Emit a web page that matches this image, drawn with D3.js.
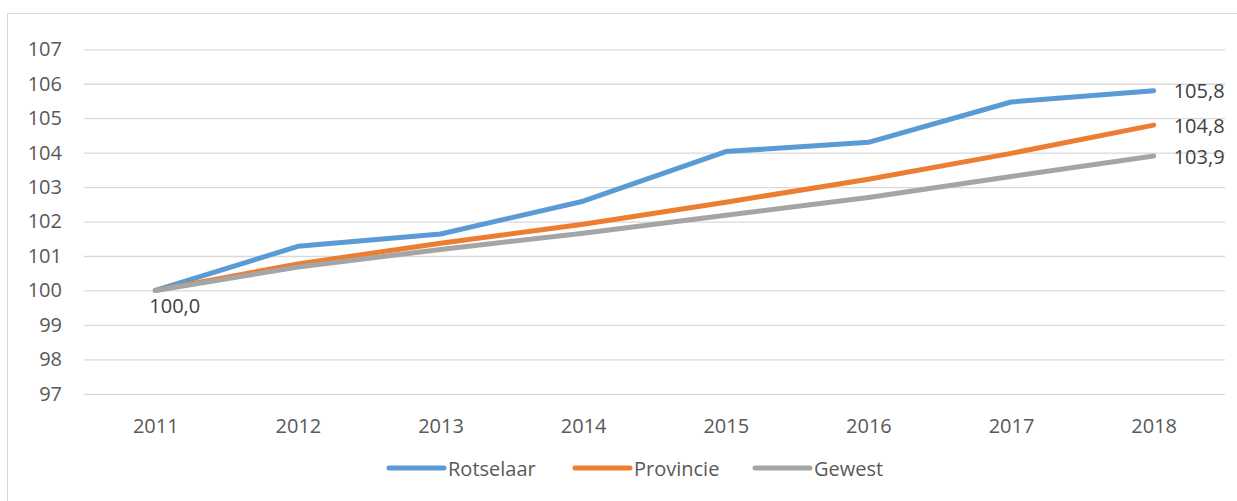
<!DOCTYPE html>
<html>
<head>
<meta charset="utf-8">
<script src="https://cdn.jsdelivr.net/npm/d3@7"></script>
<style>
  html, body { margin: 0; padding: 0; background: #fff; }
  svg { display: block; font-family: "Open Sans", sans-serif; }
</style>
</head>
<body>
<div id="chart"></div>
<script>
const years = ["2011", "2012", "2013", "2014", "2015", "2016", "2017", "2018"];
const rotselaar = [100.0, 101.28, 101.64, 102.59, 104.03, 104.30, 105.47, 105.8];
const provincie = [100.0, 100.77, 101.37, 101.92, 102.56, 103.23, 103.98, 104.8];
const gewest = [100.0, 100.68, 101.19, 101.66, 102.18, 102.70, 103.31, 103.9];
const yTicks = [97, 98, 99, 100, 101, 102, 103, 104, 105, 106, 107];
const seriesNames = ["Rotselaar", "Provincie", "Gewest"];
const seriesColors = ["#5B9BD5", "#ED7D31", "#A5A5A5"];

const W = 1237, H = 501;
const svg = d3.select("#chart").append("svg").attr("width", W).attr("height", H);

// chart border
svg.append("rect").attr("x", 7.5).attr("y", 13.5).attr("width", W + 10).attr("height", H + 10)
  .attr("fill", "#fff").attr("stroke", "#d9d9d9").attr("stroke-width", 1);

const x = d3.scalePoint().domain(years).range([84, 1225]).padding(0.5);
const y = d3.scaleLinear().domain([97, 107]).range([393.8, 49.3]);

// gridlines
const grid = d3.axisLeft(y).tickValues(yTicks).tickSize(-(1225 - 84)).tickFormat("");
svg.append("g").attr("transform", "translate(84,0)").call(grid)
  .call(g => g.select(".domain").remove())
  .call(g => g.selectAll("line").attr("stroke", "#d9d9d9").attr("stroke-width", 1.3));

// y labels
const yAxis = d3.axisLeft(y).tickValues(yTicks).tickSize(0).tickPadding(0).tickFormat(d3.format("d"));
svg.append("g").attr("transform", "translate(62,0)").call(yAxis)
  .call(g => g.select(".domain").remove())
  .call(g => g.selectAll("text").attr("fill", "#595959").attr("font-size", 20)
    .attr("font-family", "Open Sans, sans-serif"));

// x labels
const xAxis = d3.axisBottom(x).tickSize(0).tickPadding(0);
svg.append("g").attr("transform", "translate(0,425)").call(xAxis)
  .call(g => g.select(".domain").remove())
  .call(g => g.selectAll("text").attr("fill", "#595959").attr("font-size", 20)
    .attr("font-family", "Open Sans, sans-serif").attr("dy", null)
    .attr("dominant-baseline", "central"));

// lines
const allSeries = [rotselaar, provincie, gewest];
const line = d3.line().x((d, i) => x(years[i])).y(d => y(d));
allSeries.forEach((s, k) => {
  svg.append("path").datum(s).attr("d", line).attr("fill", "none")
    .attr("stroke", seriesColors[k]).attr("stroke-width", 5)
    .attr("stroke-linecap", "round").attr("stroke-linejoin", "round");
});

// data labels
const fmt = v => v.toFixed(1).replace(".", ",");
const last = years.length - 1;
allSeries.forEach((s) => {
  svg.append("text").attr("x", x(years[last]) + 20).attr("y", y(s[last]))
    .attr("dominant-baseline", "central").attr("fill", "#404040").attr("font-size", 20)
    .text(fmt(s[last]));
});
svg.append("text").attr("x", x(years[0]) - 6).attr("y", y(rotselaar[0]) + 15)
  .attr("dominant-baseline", "central").attr("fill", "#404040").attr("font-size", 20)
  .text(fmt(rotselaar[0]));

// legend
const legendItems = [
  { name: seriesNames[0], color: seriesColors[0], x0: 389 },
  { name: seriesNames[1], color: seriesColors[1], x0: 575 },
  { name: seriesNames[2], color: seriesColors[2], x0: 755 }
];
const lg = svg.append("g");
legendItems.forEach(it => {
  lg.append("line").attr("x1", it.x0).attr("x2", it.x0 + 55).attr("y1", 468).attr("y2", 468)
    .attr("stroke", it.color).attr("stroke-width", 5).attr("stroke-linecap", "round");
  lg.append("text").attr("x", it.x0 + 59).attr("y", 468).attr("dominant-baseline", "central")
    .attr("fill", "#595959").attr("font-size", 20).text(it.name);
});
</script>
</body>
</html>
